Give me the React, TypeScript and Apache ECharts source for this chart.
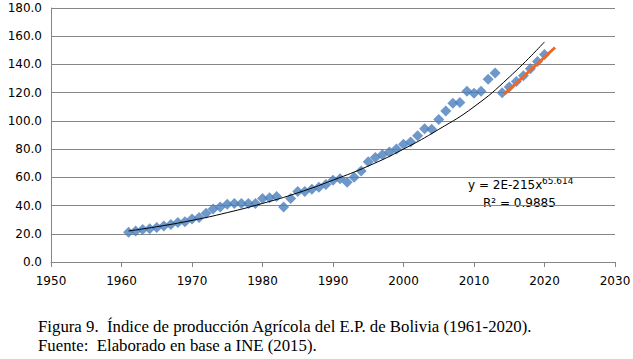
import React, { useEffect, useRef } from "react";
import * as echarts from "echarts";

const years: number[] = [
  1961, 1962, 1963, 1964, 1965, 1966, 1967, 1968, 1969, 1970,
  1971, 1972, 1973, 1974, 1975, 1976, 1977, 1978, 1979, 1980,
  1981, 1982, 1983, 1984, 1985, 1986, 1987, 1988, 1989, 1990,
  1991, 1992, 1993, 1994, 1995, 1996, 1997, 1998, 1999, 2000,
  2001, 2002, 2003, 2004, 2005, 2006, 2007, 2008, 2009, 2010,
  2011, 2012, 2013, 2014, 2015, 2016, 2017, 2018, 2019, 2020,
];
const indexValues: number[] = [
  21, 22, 23, 23.5, 24.5, 25.5, 26.5, 28, 28.5, 30.5,
  31.5, 34.5, 37.5, 39, 41, 41.5, 41.5, 41.5, 41.5, 45,
  45.5, 46.5, 39, 45, 50, 50, 51.5, 53, 55, 58,
  59, 56.5, 60, 64.5, 71, 74, 76, 78, 80, 83.5,
  85, 89.5, 94.5, 94, 101, 107, 112.5, 113, 121, 119.5,
  121, 129.5, 134, 120, 124, 128, 132, 137, 142, 147,
];
const trendYears: number[] = [1961, 1965, 1970, 1975, 1980, 1985, 1990, 1995, 2000, 2005, 2010, 2015, 2020];
const trendValues: number[] = [22, 25, 29.5, 35, 41.5, 49, 58, 68, 80, 94, 110, 131, 156];
const projYears: number[] = [2014.3, 2021.5];
const projValues: number[] = [119, 152];

const eqMain = "y = 2E-215x";
const eqExp = "65.614";
const r2Text = "R² = 0.9885";
const caption1 = "Figura 9.  Índice de producción Agrícola del E.P. de Bolivia (1961-2020).";
const caption2 = "Fuente:  Elaborado en base a INE (2015).";

export default function App() {
  const ref = useRef<HTMLDivElement>(null);
  useEffect(() => {
    document.body.style.margin = "0";
    const chart = echarts.init(ref.current!, undefined, { renderer: "svg" });
    const axisFont = { fontFamily: "DejaVu Sans", fontSize: 12, color: "#000" };
    chart.setOption({
      animation: false,
      backgroundColor: "#fff",
      grid: { left: 51, right: 18, top: 8, bottom: 97, outerBoundsMode: "none" },
      xAxis: {
        type: "value",
        min: 1950,
        max: 2030,
        interval: 10,
        axisLine: { show: true, lineStyle: { color: "#868686", width: 1 } },
        axisTick: { show: true, length: 5, lineStyle: { color: "#868686" } },
        axisLabel: { ...axisFont, margin: 13, formatter: (v: number) => String(v) },
        splitLine: { show: false },
      },
      yAxis: {
        type: "value",
        min: 0,
        max: 180,
        interval: 20,
        axisLine: { show: true, lineStyle: { color: "#868686", width: 1 } },
        axisTick: { show: false },
        axisLabel: { ...axisFont, margin: 9, formatter: (v: number) => v.toFixed(1) },
        splitLine: { show: true, lineStyle: { color: "#868686", width: 1 } },
      },
      series: [
        {
          type: "scatter",
          symbol: "diamond",
          symbolSize: 11,
          itemStyle: { color: "#4A7EBB" },
          data: years.map((y, i) => [y, indexValues[i]]),
          z: 2,
        },
        {
          type: "line",
          smooth: true,
          showSymbol: false,
          symbol: "none",
          lineStyle: { color: "#000", width: 1 },
          data: trendYears.map((y, i) => [y, trendValues[i]]),
          z: 3,
        },
        {
          type: "line",
          showSymbol: false,
          symbol: "none",
          lineStyle: { color: "#F26522", width: 3 },
          data: projYears.map((y, i) => [y, projValues[i]]),
          z: 4,
        },
      ],
      graphic: [
        { type: "text", left: 468, top: 179, style: { text: eqMain, font: "12px 'DejaVu Sans'", fill: "#000" } },
        { type: "text", left: 542, top: 176, style: { text: eqExp, font: "9px 'DejaVu Sans'", fill: "#000" } },
        { type: "text", left: 483, top: 197, style: { text: r2Text, font: "12px 'DejaVu Sans'", fill: "#000" } },
        { type: "text", left: 38, top: 318, style: { text: caption1, font: "16.8px 'Liberation Serif'", fill: "#000" } },
        { type: "text", left: 38, top: 337, style: { text: caption2, font: "16.8px 'Liberation Serif'", fill: "#000" } },
      ],
    });
    return () => chart.dispose();
  }, []);
  return <div ref={ref} style={{ width: 633, height: 359 }} />;
}
